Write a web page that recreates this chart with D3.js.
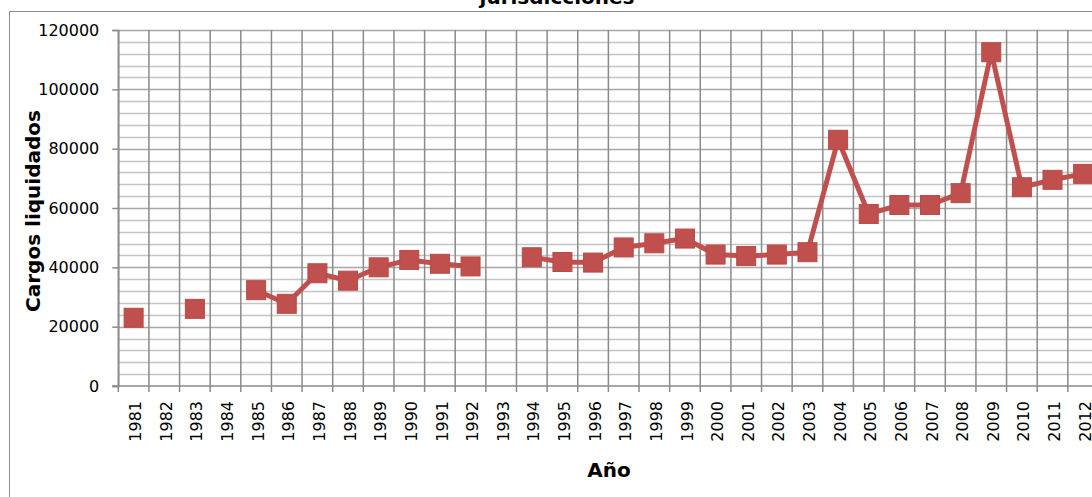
<!DOCTYPE html>
<html>
<head>
<meta charset="utf-8">
<script src="https://cdn.jsdelivr.net/npm/d3@7"></script>
<style>
  html, body { margin: 0; padding: 0; background: #fff; overflow: hidden; }
  svg { display: block; font-family: "DejaVu Sans", sans-serif; }
</style>
</head>
<body>
<svg id="chart" width="1092" height="497"></svg>
<script>
// Años y cargos liquidados (null = sin dato)
const years = ["1981","1982","1983","1984","1985","1986","1987","1988","1989","1990",
               "1991","1992","1993","1994","1995","1996","1997","1998","1999","2000",
               "2001","2002","2003","2004","2005","2006","2007","2008","2009","2010",
               "2011","2012"];
const cargos = [23000, null, 26000, null, 32300, 27700, 38000, 35500, 40000, 42500,
                41200, 40300, null, 43400, 41800, 41600, 46700, 48100, 49700, 44300,
                43800, 44300, 45100, 83000, 58000, 61000, 61000, 65000, 112500, 67000,
                69500, 71500];
const yTicks = [0, 20000, 40000, 60000, 80000, 100000, 120000];
const yMinorStep = 4000;

const titleText = "jurisdicciones";
const yTitle = "Cargos liquidados";
const xTitle = "Año";

const svg = d3.select("#chart");
const W = 1092, H = 497;
const plot = { left: 118.3, top: 30, bottom: 386 };
const band = 30.63;
plot.right = plot.left + band * years.length;

const x = d3.scaleBand().domain(years).range([plot.left, plot.right]).padding(0);
const y = d3.scaleLinear().domain([0, 120000]).range([plot.bottom, plot.top]);

const red = "#C0504D";

// marco del gráfico
svg.append("line").attr("x1", 9.5).attr("x2", W).attr("y1", 11.5).attr("y2", 11.5)
  .attr("stroke", "#8c8c8c").attr("stroke-width", 1);
svg.append("line").attr("x1", 9.5).attr("x2", 9.5).attr("y1", 11.5).attr("y2", H)
  .attr("stroke", "#8c8c8c").attr("stroke-width", 1);

// título
svg.append("text").attr("x", 557).attr("y", 4).attr("text-anchor", "middle")
  .attr("font-size", 20).attr("font-weight", "bold").attr("fill", "#000").text(titleText);

// líneas de división secundarias
const minor = d3.range(0, 120000 + 1, yMinorStep).filter(v => yTicks.indexOf(v) < 0);
svg.append("g").selectAll("line").data(minor).join("line")
  .attr("x1", plot.left).attr("x2", plot.right)
  .attr("y1", d => Math.round(y(d)) + 0.5).attr("y2", d => Math.round(y(d)) + 0.5)
  .attr("stroke", "#c4c4c4").attr("stroke-width", 1.5);

// líneas de división principales
svg.append("g").selectAll("line").data(yTicks.filter(v => v > 0)).join("line")
  .attr("x1", plot.left).attr("x2", plot.right)
  .attr("y1", d => Math.round(y(d)) + 0.5).attr("y2", d => Math.round(y(d)) + 0.5)
  .attr("stroke", "#a6a6a6").attr("stroke-width", 1.5);

// líneas verticales en los límites de categoría
const bounds = years.map(yr => x(yr)).concat([plot.right]);
svg.append("g").selectAll("line").data(bounds).join("line")
  .attr("x1", d => d).attr("x2", d => d)
  .attr("y1", plot.top).attr("y2", plot.bottom + 6)
  .attr("stroke", "#8a8a8a").attr("stroke-width", 1.5);

// eje Y
const yAxis = d3.axisLeft(y).tickValues(yTicks).tickSize(6).tickPadding(13)
  .tickFormat(d3.format("d"));
const gy = svg.append("g").attr("transform", `translate(${plot.left},0)`).call(yAxis);
gy.select(".domain").attr("stroke", "#8a8a8a").attr("stroke-width", 1.5);
gy.selectAll(".tick line").attr("stroke", "#8a8a8a").attr("stroke-width", 1.5);
gy.selectAll(".tick text").attr("font-size", 16).attr("fill", "#000")
  .attr("font-family", "DejaVu Sans");

// eje X
svg.append("line").attr("x1", plot.left - 6).attr("x2", plot.right)
  .attr("y1", plot.bottom).attr("y2", plot.bottom)
  .attr("stroke", "#8a8a8a").attr("stroke-width", 1.5);
const xAxis = d3.axisBottom(x).tickSize(0).tickPadding(0);
const gx = svg.append("g").attr("transform", `translate(0,${plot.bottom})`).call(xAxis);
gx.select(".domain").remove();
gx.selectAll(".tick text")
  .attr("font-size", 16).attr("fill", "#000").attr("font-family", "DejaVu Sans")
  .attr("text-anchor", "end")
  .attr("transform", "translate(2,15) rotate(-90)")
  .attr("x", 0).attr("y", 0).attr("dy", "0.35em");

// títulos de ejes
svg.append("text").attr("transform", "translate(40,211) rotate(-90)")
  .attr("text-anchor", "middle").attr("font-size", 20).attr("font-weight", "bold")
  .attr("fill", "#000").text(yTitle);
svg.append("text").attr("x", 609).attr("y", 477).attr("text-anchor", "middle")
  .attr("font-size", 20).attr("font-weight", "bold").attr("fill", "#000").text(xTitle);

// serie
const pts = years.map((yr, i) => ({ yr, v: cargos[i] }));
const line = d3.line()
  .defined(d => d.v != null)
  .x(d => x(d.yr) + x.bandwidth() / 2)
  .y(d => y(d.v));
svg.append("path").datum(pts).attr("d", line)
  .attr("fill", "none").attr("stroke", red).attr("stroke-width", 5)
  .attr("stroke-linejoin", "round");

const ms = 19;
svg.append("g").selectAll("rect").data(pts.filter(d => d.v != null)).join("rect")
  .attr("x", d => x(d.yr) + x.bandwidth() / 2 - ms / 2)
  .attr("y", d => y(d.v) - ms / 2)
  .attr("width", ms).attr("height", ms)
  .attr("fill", red).attr("stroke", "#b84a47").attr("stroke-width", 1);
</script>
</body>
</html>
